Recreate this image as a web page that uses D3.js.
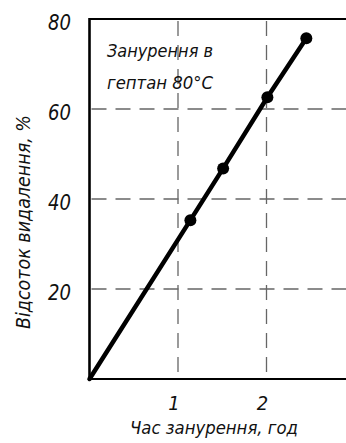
<!DOCTYPE html>
<html>
<head>
<meta charset="utf-8">
<script src="https://cdn.jsdelivr.net/npm/d3@7"></script>
<style>
  html, body { margin: 0; padding: 0; background: #ffffff; }
  svg { display: block; }
  svg text {
    font-family: "DejaVu Sans Condensed", "DejaVu Sans", sans-serif;
    font-style: italic;
    fill: #111;
  }
</style>
</head>
<body>
<svg id="chart" width="346" height="443"></svg>
<script>
// immersion time, hours / removal percentage
const hours = [0, 1.14, 1.51, 2.01, 2.45];
const removal = [0, 35.3, 46.8, 62.6, 75.7];
const xTicks = [1, 2];
const yTicks = [20, 40, 60, 80];
const noteLines = ["Занурення в", "гептан 80°С"];
const xTitle = "Час занурення, год";
const yTitle = "Відсоток видалення, %";

const width = 346, height = 443;
const svg = d3.select("#chart");

const x = d3.scaleLinear().domain([0, 3]).range([89.5, 355]);
const y = d3.scaleLinear().domain([0, 80]).range([379, 19]);

// dashed grid
const grid = svg.append("g")
  .attr("stroke", "#666")
  .attr("stroke-width", 1.3)
  .attr("stroke-dasharray", "15,9");

grid.selectAll("line.h")
  .data(yTicks.filter(d => d < 80))
  .join("line")
  .attr("class", "h")
  .attr("x1", x(0) + 2)
  .attr("x2", width)
  .attr("y1", d => y(d))
  .attr("y2", d => y(d));

grid.selectAll("line.v")
  .data(xTicks)
  .join("line")
  .attr("class", "v")
  .attr("x1", d => x(d))
  .attr("x2", d => x(d))
  .attr("y1", y(80) + 2)
  .attr("y2", y(0));

// frame
svg.append("line")
  .attr("x1", x(0)).attr("x2", width)
  .attr("y1", y(80)).attr("y2", y(80))
  .attr("stroke", "#000").attr("stroke-width", 2.2);
svg.append("line")
  .attr("x1", x(0)).attr("x2", width)
  .attr("y1", y(0)).attr("y2", y(0))
  .attr("stroke", "#000").attr("stroke-width", 2);
svg.append("line")
  .attr("x1", x(0)).attr("x2", x(0))
  .attr("y1", y(80) - 1).attr("y2", y(0) + 1)
  .attr("stroke", "#000").attr("stroke-width", 2.6);

// tick labels
svg.append("g").selectAll("text")
  .data(yTicks)
  .join("text")
  .attr("x", 71)
  .attr("y", d => y(d) + 11)
  .attr("text-anchor", "end")
  .attr("font-size", 22)
  .attr("textLength", 23)
  .attr("lengthAdjust", "spacingAndGlyphs")
  .text(d => d);

svg.append("g").selectAll("text")
  .data(xTicks)
  .join("text")
  .attr("x", d => x(d) - 4)
  .attr("y", 410)
  .attr("text-anchor", "middle")
  .attr("font-size", 20)
  .text(d => d);

// axis titles
svg.append("text")
  .attr("x", 214)
  .attr("y", 434)
  .attr("text-anchor", "middle")
  .attr("font-size", 18)
  .attr("textLength", 168)
  .attr("lengthAdjust", "spacingAndGlyphs")
  .text(xTitle);

svg.append("text")
  .attr("transform", "translate(30,222) rotate(-90)")
  .attr("text-anchor", "middle")
  .attr("font-size", 19)
  .attr("textLength", 214)
  .attr("lengthAdjust", "spacingAndGlyphs")
  .text(yTitle);

// annotation
svg.append("g").selectAll("text")
  .data(noteLines)
  .join("text")
  .attr("x", 107)
  .attr("y", (d, i) => 57 + i * 32)
  .attr("font-size", 18)
  .attr("textLength", 106)
  .attr("lengthAdjust", "spacingAndGlyphs")
  .text(d => d);

// data line and markers
const pts = hours.map((h, i) => [h, removal[i]]);
svg.append("path")
  .datum(pts)
  .attr("fill", "none")
  .attr("stroke", "#000")
  .attr("stroke-width", 4.5)
  .attr("stroke-linecap", "round")
  .attr("d", d3.line().x(d => x(d[0])).y(d => y(d[1])));

svg.append("g").selectAll("circle")
  .data(pts.slice(1))
  .join("circle")
  .attr("cx", d => x(d[0]))
  .attr("cy", d => y(d[1]))
  .attr("r", 6)
  .attr("fill", "#000");
</script>
</body>
</html>
